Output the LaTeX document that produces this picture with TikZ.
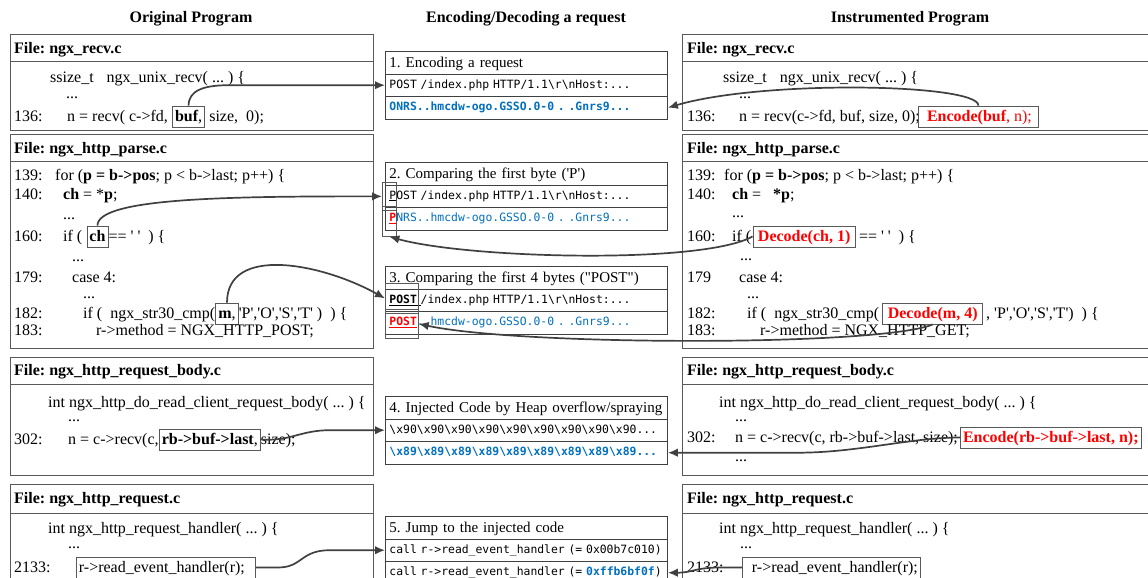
\documentclass[tikz,border=0pt]{standalone}
\usepackage{fontspec}
\setmainfont{Liberation Serif}[Ligatures=TeXOff]
\newfontfamily\monofnt{DejaVu Sans Mono}
\newcommand\fixmonospace{\fontdimen2\font=\fontcharwd\font`0 \fontdimen3\font=0pt \fontdimen4\font=0pt }
\usetikzlibrary{arrows.meta,calc}
\definecolor{boxgray}{HTML}{595959}
\definecolor{arrgray}{HTML}{404040}
\definecolor{cred}{HTML}{FF0000}
\definecolor{cblue}{HTML}{0070C0}
\tikzset{
 code/.style={font=\fontsize{16}{19}\selectfont, inner sep=0pt, anchor=base west},
 hdr/.style={code, font=\fontsize{16}{19}\selectfont\bfseries},
 title/.style={font=\fontsize{16}{19}\selectfont\bfseries, inner sep=0pt},
 panel/.style={draw=boxgray, line width=0.9pt},
 ibox/.style={draw=boxgray, line width=0.9pt, font=\fontsize{16}{19}\selectfont, inner xsep=2.5pt, inner ysep=3pt, text height=12pt, text depth=3pt, anchor=base west},
 rbox/.style={ibox, inner xsep=5pt, text=cred},
 mrow/.style={draw=arrgray, line width=0.9pt, minimum height=22.5pt, text width=274pt, inner xsep=4pt, inner ysep=0pt, align=left, anchor=north west, font=\monofnt\fontsize{11.4}{13}\selectfont\fixmonospace, text height=8pt, text depth=2pt},
 mblue/.style={mrow, font=\monofnt\fontsize{11.4}{13}\selectfont\bfseries\fixmonospace, text=cblue},
 mhdr/.style={mrow, font=\fontsize{15}{18}\selectfont, text height=11pt, text depth=1pt},
 hl/.style={draw=boxgray, line width=0.7pt, inner sep=0pt, anchor=north west},
 arr/.style={draw=arrgray, line width=1.7pt, -{Latex[length=10pt,width=8.5pt]}},
}
\begin{document}
\frenchspacing
\begin{tikzpicture}[x=1pt,y=-1pt]
\useasboundingbox (0,0) rectangle (1148,578);
\clip (0,0) rectangle (1148,578);
\fill[white] (0,0) rectangle (1148,578);

% titles
\node[title] (t1) at (191,19) {Original Program};
\node[title] (t2) at (526,19) {Encoding/Decoding a request};
\node[title] (t3) at (910,19) {Instrumented Program};

% panels left
\draw[panel] (10,34) rectangle (373,130); \draw[panel] (10,61) -- (373,61);
\draw[panel] (10,134) rectangle (373,348); \draw[panel] (10,161) -- (373,161);
\draw[panel] (10,357) rectangle (373,475); \draw[panel] (10,384) -- (373,384);
\draw[panel] (10,484) rectangle (373,600); \draw[panel] (10,513) -- (373,513);
% panels right
\draw[panel] (682,34) rectangle (1160,130); \draw[panel] (682,61) -- (1160,61);
\draw[panel] (682,134) rectangle (1160,348); \draw[panel] (682,161) -- (1160,161);
\draw[panel] (682,357) rectangle (1160,475); \draw[panel] (682,384) -- (1160,384);
\draw[panel] (682,484) rectangle (1160,600); \draw[panel] (682,513) -- (1160,513);

% ---------- left: ngx_recv.c
\node[hdr] (h1) at (14,53) {File: ngx\_recv.c};
\node[code] (l1a) at (50,82) {ssize\_t\hspace{13pt}ngx\_unix\_recv( ... ) \{};
\node[code] (l1b) at (66,98) {...};
\node[code] (l1n) at (14,121) {136:};
\node[code] (l1c) at (67,121) {n = recv( c->fd,\hspace*{4pt}};
\node[ibox] (bufL) at (l1c.base east) {\textbf{buf},};
\node[code] (l1d) at (bufL.base east) {\ size,\ \ 0);};

% ---------- left: ngx_http_parse.c
\node[hdr] (h2) at (14,153) {File: ngx\_http\_parse.c};
\node[code] (l2n1) at (14,180) {139:};
\node[code] (l2a) at (55,180) {for (\textbf{p = b->pos}; p < b->last; p++) \{};
\node[code] (l2n2) at (14,199) {140:};
\node[code] (l2b) at (63,199) {\textbf{ch} = *\textbf{p};};
\node[code] (l2c) at (63,219) {...};
\node[code] (l2n3) at (14,241) {160:};
\node[code] (l2d) at (63,241) {if (\hspace*{4pt}};
\node[ibox] (chL) at (l2d.base east) {\textbf{ch}};
\node[code] (l2e) at (chL.base east) {== ' '\ \ ) \{};
\node[code] (l2f) at (72,261) {...};
\node[code] (l2n4) at (14,282) {179:};
\node[code] (l2g) at (72,282) {case 4:};
\node[code] (l2h) at (83,298) {...};
\node[code] (l2n5) at (14,318) {182:};
\node[code] (l2i) at (83,318) {if (\ \ ngx\_str30\_cmp(};
\node[ibox] (mL) at (l2i.base east) {\textbf{m},};
\node[code] (l2j) at (mL.base east) {'P','O','S','T' )\ \ ) \{};
\node[code] (l2n6) at (14,335) {183:};
\node[code] (l2k) at (96,335) {r->method = NGX\_HTTP\_POST;};

% ---------- left: ngx_http_request_body.c
\node[hdr] (h3) at (14,375.5) {File: ngx\_http\_request\_body.c};
\node[code] (l3a) at (48,407) {int ngx\_http\_do\_read\_client\_request\_body( ... ) \{};
\node[code] (l3b) at (68,421) {...};
\node[code] (l3n) at (14,444) {302:};
\node[code] (l3c) at (68,444) {n = c->recv(c,};
\node[ibox] (rbL) at (l3c.base east) {\textbf{rb->buf->last},};
\node[code] (l3d) at (rbL.base east) {size);};

% ---------- left: ngx_http_request.c
\node[hdr] (h4) at (14,503.5) {File: ngx\_http\_request.c};
\node[code] (l4a) at (48,533) {int ngx\_http\_request\_handler( ... ) \{};
\node[code] (l4b) at (68,548) {...};
\node[code] (l4n) at (14,572) {2133:};
\node[ibox] (rehL) at (76,572) {r->read\_event\_handler(r);\hspace*{8pt}};

% ---------- right: ngx_recv.c
\node[hdr] (g1) at (687,53) {File: ngx\_recv.c};
\node[code] (r1a) at (723,82) {ssize\_t\hspace{13pt}ngx\_unix\_recv( ... ) \{};
\node[code] (r1b) at (739,98) {...};
\node[code] (r1n) at (687,121) {136:};
\node[code] (r1c) at (739,121) {n = recv(c->fd, buf, size, 0);};
\node[ibox, xshift=-2pt, text=cred] (encbuf) at (r1c.base east) {\hspace*{6pt}\textbf{Encode(buf}, n);\hspace*{4pt}};

% ---------- right: ngx_http_parse.c
\node[hdr] (g2) at (687,153) {File: ngx\_http\_parse.c};
\node[code] (r2n1) at (687,180) {139:};
\node[code] (r2a) at (724,180) {for (\textbf{p = b->pos}; p < b->last; p++) \{};
\node[code] (r2n2) at (687,199) {140:};
\node[code] (r2b) at (732,199) {\textbf{ch} =\ \ \ \textbf{*p};};
\node[code] (r2c) at (732,217) {...};
\node[code] (r2n3) at (687,241) {160:};
\node[code] (r2d) at (732,241) {if (};
\node[rbox, xshift=1pt] (decch) at (r2d.base east) {\textbf{Decode(ch, 1)}};
\node[code, xshift=3pt] (r2e) at (decch.base east) {== ' '\ \ ) \{};
\node[code] (r2f) at (740,260) {...};
\node[code] (r2n4) at (687,282) {179};
\node[code] (r2g) at (739,282) {case 4:};
\node[code] (r2h) at (747,298) {...};
\node[code] (r2n5) at (687,318) {182:};
\node[code] (r2i) at (747,318) {if (\ \ ngx\_str30\_cmp(};
\node[rbox, xshift=3pt] (decm) at (r2i.base east) {\textbf{Decode(m, 4)}};
\node[code, xshift=3pt] (r2j) at (decm.base east) {, 'P','O','S','T')\ \ ) \{};
\node[code] (r2n6) at (687,335) {183:};
\node[code] (r2k) at (760,335) {r->method = NGX\_HTTP\_GET;};

% ---------- right: ngx_http_request_body.c
\node[hdr] (g3) at (687,375.5) {File: ngx\_http\_request\_body.c};
\node[code] (r3a) at (719,407) {int ngx\_http\_do\_read\_client\_request\_body( ... ) \{};
\node[code] (r3b) at (735,421) {...};
\node[code] (r3n) at (687,442) {302:};
\node[code] (r3c) at (735,442) {n = c->recv(c, rb->buf->last, size);};
\node[ibox, xshift=2pt, text=cred] (encrb) at (r3c.base east) {\textbf{Encode(rb->buf->last, n);}};
\node[code] (r3d) at (735,461) {...};

% ---------- right: ngx_http_request.c
\node[hdr] (g4) at (687,503.5) {File: ngx\_http\_request.c};
\node[code] (r4a) at (719,533) {int ngx\_http\_request\_handler( ... ) \{};
\node[code] (r4b) at (740,548) {...};
\node[code] (r4n) at (687,572) {2133:};
\node[ibox] (rehR) at (742,572) {\hspace*{7pt}r->read\_event\_handler(r);};

% ---------- middle boxes
\node[mhdr] (m1h) at (385,51) {1. Encoding a request};
\node[mrow] (m1a) at (385,73.5) {POST /index.php HTTP/1.1\textbackslash r\textbackslash nHost:...};
\node[mblue] (m1b) at (385,96) {ONRS..hmcdw-ogo.GSSO.0-0 . .Gnrs9...};

\node[mhdr] (m2h) at (385,162) {2. Comparing the first byte ('P')};
\node[mrow] (m2a) at (385,184.5) {\underline{P}OST /index.php HTTP/1.1\textbackslash r\textbackslash nHost:...};
\node[mrow] (m2b) at (385,207) {\textcolor{cred}{\textbf{\underline{P}}}\textcolor{cblue}{NRS..hmcdw-ogo.GSSO.0-0 . .Gnrs9...}};

\node[mhdr] (m3h) at (385,266) {3. Comparing the first 4 bytes ("POST")};
\node[mrow] (m3a) at (385,288.5) {\underline{\textbf{POST}\ }/index.php HTTP/1.1\textbackslash r\textbackslash nHost:...};
\node[mrow] (m3b) at (385,311) {\textcolor{cred}{\textbf{\underline{POST}}}\textcolor{cblue}{..hmcdw-ogo.GSSO.0-0 . .Gnrs9...}};

\node[mhdr] (m4h) at (385,396) {\mbox{4. Injected Code by Heap overflow/spraying}};
\node[mrow] (m4a) at (385,418.5) {\textbackslash x90\textbackslash x90\textbackslash x90\textbackslash x90\textbackslash x90\textbackslash x90\textbackslash x90\textbackslash x90\textbackslash x90...};
\node[mblue] (m4b) at (385,441) {\textbackslash x89\textbackslash x89\textbackslash x89\textbackslash x89\textbackslash x89\textbackslash x89\textbackslash x89\textbackslash x89\textbackslash x89...};

\node[mhdr] (m5h) at (385,516) {5. Jump to the injected code};
\node[mrow] (m5a) at (385,538.5) {\mbox{call r->read\_event\_handler (= 0x00b7c010)}};
\node[mrow] (m5b) at (385,561) {\mbox{call r->read\_event\_handler (= \textcolor{cblue}{\textbf{0xffb6bf0f}})}};

% highlight boxes
\node[hl, minimum width=14pt, minimum height=28pt] (hl2a) at (382,182) {};
\node[hl, minimum width=14pt, minimum height=30pt] (hl2b) at (382,206) {};
\node[hl, minimum width=33pt, minimum height=30pt] (hl3a) at (385,283) {};
\node[hl, minimum width=33pt, minimum height=29pt] (hl3b) at (385,309) {};

% ---------- arrows
\draw[arr] (bufL.north) .. controls +(0,-15) and +(-25,0) .. ($(bufL.north |- m1a.west)+(40,0)$) -- (m1a.west);
\draw[arr] (encbuf.north) .. controls +(0,-22) and +(95,-28) .. (m1b.east);
\draw[arr] (chL.north) .. controls +(0,-28) and +(-150,0) .. (hl2a.west);
\draw[arr] (decch.west) .. controls +(-50,28) and +(80,22) .. (hl2b.south);
\draw[arr] (mL.north) .. controls +(0,-58) and +(-63,-35) .. (hl3a.west);
\draw[arr] (decm.south) .. controls +(-53,22) and +(102,22) .. (hl3b.east);
\draw[arr] (rbL.east) .. controls +(30,2) and +(-30,0) .. ($(m4a.west)+(-55,0)$) -- (m4a.west);
\draw[arr] (encrb.west) .. controls +(-50,0) and +(60,0) .. ($(m4b.east)+(130,0)$) -- (m4b.east);
\draw[arr] (rehL.east) -- ++(22,0) .. controls +(25,0) and +(-30,0) .. ($(m5a.west)+(-55,0)$) -- (m5a.west);
\draw[arr] (rehR.west) -- ++(-22,0) .. controls +(-25,0) and +(25,0) .. (m5b.east);
\end{tikzpicture}
\end{document}
